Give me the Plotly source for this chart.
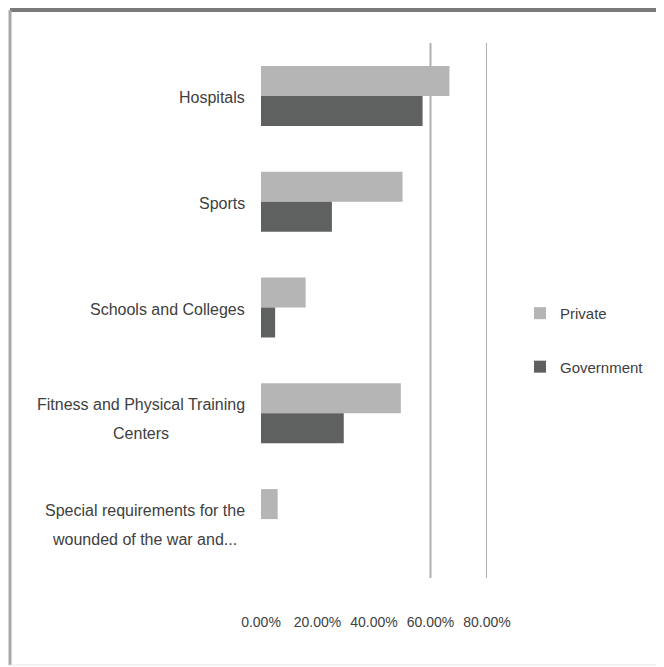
import plotly.graph_objects as go

categories = [
    "Hospitals",
    "Sports",
    "Schools and Colleges",
    "Fitness and Physical Training<br>Centers",
    "Special requirements for the<br>wounded of the war and...",
]
private_vals = [0.667, 0.501, 0.158, 0.495, 0.059]
government_vals = [0.572, 0.251, 0.050, 0.293, 0.0]
x_ticks = [0, 0.2, 0.4, 0.6, 0.8]
x_tick_labels = ["0.00%", "20.00%", "40.00%", "60.00%", "80.00%"]
grid_values = [0.6, 0.8]

FONT = "Liberation Sans, Arial, sans-serif"
TXT = "#404040"

fig = go.Figure()
fig.add_trace(go.Bar(y=categories, x=private_vals, orientation="h", name="Private",
                     marker=dict(color="#b4b5b4", line=dict(width=0)), legendgroup="p"))
fig.add_trace(go.Bar(y=categories, x=government_vals, orientation="h", name="Government",
                     marker=dict(color="#5f6160", line=dict(width=0)), legendgroup="g"))

for g in grid_values:
    fig.add_shape(type="line", xref="x", yref="paper", x0=g, x1=g, y0=-0.0113, y1=1,
                  line=dict(color="#b0b0b0", width=2), layer="below")

# outer frame
fig.add_shape(type="line", xref="paper", yref="paper", x0=-1.1106, x1=1.9, y0=1.0624, y1=1.0624,
              line=dict(color="#7a7a7a", width=4))
fig.add_shape(type="line", xref="paper", yref="paper", x0=-1.1106, x1=-1.1106, y0=1.0624, y1=-0.1758,
              line=dict(color="#a8a8a8", width=3))
fig.add_shape(type="line", xref="paper", yref="paper", x0=-1.1106, x1=1.9, y0=-0.1758, y1=-0.1758,
              line=dict(color="#e6e6e6", width=1))

for c in categories:
    parts = c.split("<br>")
    label = "<br>".join("<span style='font-size:16px'>%s</span>" % part for part in parts)
    fig.add_annotation(x=-0.062, xref="paper", y=c, yref="y", text=label, showarrow=False,
                       xanchor="right", align="center", yshift=-2 if len(parts) == 1 else -6,
                       font=dict(family=FONT, size=22.5, color=TXT))

fig.update_layout(
    width=656, height=659,
    margin=dict(l=253, r=177, t=35, b=95, autoexpand=False),
    paper_bgcolor="white", plot_bgcolor="white",
    barmode="group", bargap=0.433, bargroupgap=0,
    showlegend=True,
    legend=dict(x=1.146, y=0.52, xanchor="left", yanchor="top",
                traceorder="grouped", tracegroupgap=31,
                font=dict(family=FONT, size=15, color=TXT), bgcolor="rgba(0,0,0,0)"),
    font=dict(family=FONT, size=15, color=TXT),
)
fig.update_xaxes(range=[0, 0.8], tickvals=x_ticks, ticktext=x_tick_labels, showgrid=False,
                 zeroline=False, showline=False, ticks="", ticklabelstandoff=40, tickangle=0,
                 automargin=False, tickfont=dict(family=FONT, size=14, color=TXT))
fig.update_yaxes(autorange="reversed", showticklabels=False, showgrid=False, zeroline=False,
                 showline=False, ticks="", automargin=False)

fig.write_html("out.html")
